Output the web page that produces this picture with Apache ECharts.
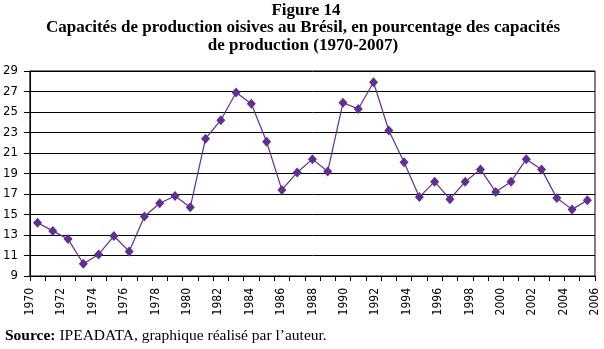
<!DOCTYPE html>
<html>
<head>
<meta charset="utf-8">
<script src="https://cdn.jsdelivr.net/npm/echarts@6/dist/echarts.min.js"></script>
<style>
  html, body { margin: 0; padding: 0; background: #fff; }
  #chart { width: 604px; height: 349px; }
</style>
</head>
<body>
<div id="chart"></div>
<script>
// années 1970-2006
var years = [];
for (var y = 1970; y <= 2006; y++) years.push(String(y));

// étiquettes de l'axe (une année sur deux, réparties sur toute la largeur)
var yearLabels = years.filter(function (s, i) { return i % 2 === 0; });

// capacités oisives, %
var idle = [14.2, 13.4, 12.6, 10.2, 11.1, 12.9, 11.4, 14.8, 16.1, 16.8,
            15.7, 22.4, 24.2, 26.9, 25.8, 22.1, 17.4, 19.1, 20.4, 19.2,
            25.9, 25.3, 27.9, 23.2, 20.1, 16.7, 18.2, 16.5, 18.2, 19.4,
            17.2, 18.2, 20.4, 19.4, 16.6, 15.5, 16.4];

var yMin = 9, yMax = 29, yStep = 2;

var narrow = "'Liberation Sans Narrow', 'DejaVu Sans Condensed', sans-serif";
var serif = "'Liberation Serif', 'DejaVu Serif', serif";
var titleStyle = { fontFamily: serif, fontWeight: 'bold', fontSize: 17, color: '#000' };

var chart = echarts.init(document.getElementById('chart'));

chart.setOption({
  animation: false,
  backgroundColor: '#fff',
  title: [
    { text: 'Figure 14', left: 306, top: 2, padding: 0, textAlign: 'center', textStyle: titleStyle },
    { text: 'Capacités de production oisives au Brésil, en pourcentage des capacités',
      left: 303, top: 19, padding: 0, textAlign: 'center', textStyle: titleStyle },
    { text: 'de production (1970-2007)', left: 303, top: 37, padding: 0, textAlign: 'center',
      textStyle: titleStyle },
    { text: '{b|Source:} IPEADATA, graphique réalisé par l’auteur.', left: 5, top: 328, padding: 0,
      textStyle: { fontFamily: serif, fontWeight: 'normal', fontSize: 15.5, color: '#000',
        rich: { b: { fontFamily: serif, fontWeight: 'bold', fontSize: 15.5, color: '#000' } } } }
  ],
  grid: {
    left: 29, right: 9, top: 71, bottom: 73,
    show: true, borderColor: '#000', borderWidth: 1, backgroundColor: 'transparent'
  },
  xAxis: [
    {
      type: 'category', data: years, boundaryGap: true,
      axisLine: { show: false }, axisTick: { show: false }, axisLabel: { show: false },
      splitLine: { show: false }
    },
    {
      // graduations entre les années
      type: 'value', position: 'bottom', min: 0, max: years.length, interval: 1,
      axisLine: { show: true, onZero: false, lineStyle: { color: '#000', width: 1 } },
      axisTick: { show: true, length: 5, lineStyle: { color: '#000' } },
      axisLabel: { show: false },
      splitLine: { show: false }
    },
    {
      // étiquettes
      type: 'category', data: yearLabels, boundaryGap: false, position: 'bottom',
      axisLine: { show: false }, axisTick: { show: false }, splitLine: { show: false },
      axisLabel: {
        rotate: 90, margin: 12, interval: 0, fontFamily: narrow, fontSize: 12, color: '#000'
      }
    }
  ],
  yAxis: [
    {
      type: 'value', min: yMin, max: yMax,
      axisLine: { show: false }, axisTick: { show: false },
      axisLabel: { show: false }, splitLine: { show: false }
    },
    {
      // même échelle, décalée pour avoir des graduations sur les impairs
      type: 'value', position: 'left', min: 0, max: yMax - yMin, interval: yStep,
      axisLine: { show: true, lineStyle: { color: '#000', width: 1 } },
      axisTick: { show: true, length: 6, lineStyle: { color: '#000' } },
      splitLine: { show: true, lineStyle: { color: '#000', width: 1 } },
      axisLabel: {
        margin: 12, fontFamily: narrow, fontSize: 13, color: '#000',
        formatter: function (v) { return String(v + yMin); }
      }
    }
  ],
  series: [{
    type: 'line', data: idle, xAxisIndex: 0, yAxisIndex: 0,
    symbol: 'diamond', symbolSize: [9, 10],
    lineStyle: { color: '#5e3090', width: 1.2 },
    itemStyle: { color: '#5e3090' }
  }]
});
</script>
</body>
</html>
